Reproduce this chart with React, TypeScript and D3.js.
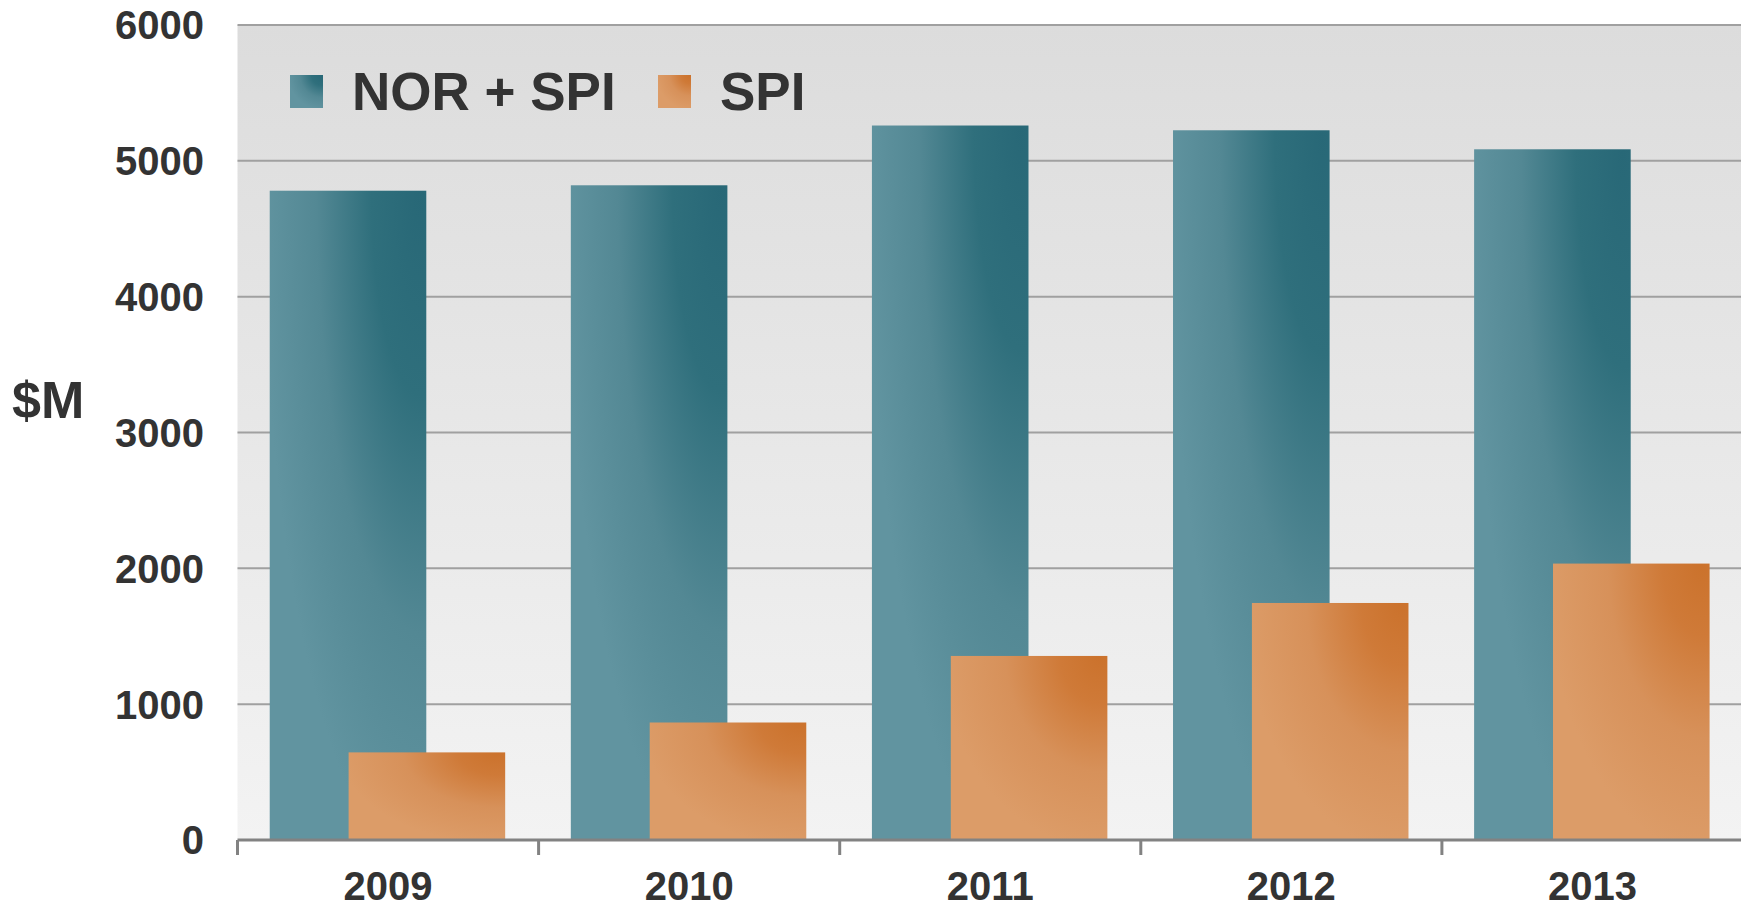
import React from 'react'
import * as d3 from 'd3'

const years = ['2009', '2010', '2011', '2012', '2013']
const norSpi = [4780, 4820, 5260, 5225, 5085]
const spi = [645, 865, 1355, 1745, 2035]
const yTicks = [0, 1000, 2000, 3000, 4000, 5000, 6000]
const seriesNames = ['NOR + SPI', 'SPI']

const W = 1741
const H = 907
const margin = { top: 25, right: -2, bottom: 67, left: 237.5 }
const font = 'Liberation Sans, Arial, Helvetica, sans-serif'

export default function App() {
  const x = d3.scaleBand<string>()
    .domain(years)
    .range([margin.left, W - margin.right])
    .padding(0)

  const y = d3.scaleLinear()
    .domain([0, 6000])
    .range([H - margin.bottom, margin.top])

  const bw = x.bandwidth()
  const barW = bw * 0.52
  const off1 = bw * 0.107
  const off2 = bw * 0.369
  const bottom = y(0)

  return (
    <svg width={W} height={H} style={{ position: 'fixed', left: 0, top: 0, display: 'block', background: '#fff' }}>
      <defs>
        <linearGradient id="plotBg" x1="0" y1="0" x2="0" y2="1">
          <stop offset="0" stopColor="#dcdcdc" />
          <stop offset="1" stopColor="#f3f3f3" />
        </linearGradient>
        <radialGradient id="teal" cx="1" cy="0" r="1.05" fx="0.95" fy="0">
          <stop offset="0" stopColor="#286877" />
          <stop offset="0.3" stopColor="#2f6f7c" />
          <stop offset="0.65" stopColor="#538894" />
          <stop offset="1" stopColor="#6194a0" />
        </radialGradient>
        <radialGradient id="orange" cx="1" cy="0" r="1.05" fx="0.95" fy="0">
          <stop offset="0" stopColor="#cb722c" />
          <stop offset="0.25" stopColor="#cf7a38" />
          <stop offset="0.6" stopColor="#d7915a" />
          <stop offset="1" stopColor="#dc9c68" />
        </radialGradient>
      </defs>

      {/* plot background */}
      <rect x={margin.left} y={y(6000)} width={W - margin.left} height={bottom - y(6000)} fill="url(#plotBg)" />

      {/* grid */}
      {yTicks.filter(t => t > 0).map(t => (
        <line key={t} x1={margin.left} x2={W} y1={y(t)} y2={y(t)} stroke="#a0a0a0" strokeWidth={2} />
      ))}

      {/* bars */}
      {years.map((yr, i) => (
        <rect key={'a' + yr} x={x(yr)! + off1} y={y(norSpi[i])} width={barW} height={bottom - y(norSpi[i])} fill="url(#teal)" />
      ))}
      {years.map((yr, i) => (
        <rect key={'b' + yr} x={x(yr)! + off2} y={y(spi[i])} width={barW} height={bottom - y(spi[i])} fill="url(#orange)" />
      ))}

      {/* x axis */}
      <line x1={margin.left} x2={W} y1={bottom} y2={bottom} stroke="#828282" strokeWidth={3} />
      {years.map(yr => (
        <line key={'t' + yr} x1={x(yr)!} x2={x(yr)!} y1={bottom} y2={bottom + 15} stroke="#828282" strokeWidth={3} />
      ))}
      {years.map(yr => (
        <text key={'l' + yr} x={x(yr)! + bw / 2} y={bottom + 60} textAnchor="middle"
          fontFamily={font} fontWeight="bold" fontSize={40} fill="#333">{yr}</text>
      ))}

      {/* y axis labels */}
      {yTicks.map(t => (
        <text key={'y' + t} x={204} y={y(t)} dy="0.36em" textAnchor="end"
          fontFamily={font} fontWeight="bold" fontSize={40} fill="#333">{t}</text>
      ))}
      <text x={12} y={418} fontFamily={font} fontWeight="bold" fontSize={52} fill="#333">$M</text>

      {/* legend */}
      <rect x={290} y={75} width={33} height={33} fill="url(#teal)" />
      <text x={352} y={110} fontFamily={font} fontWeight="bold" fontSize={53} fill="#333">{seriesNames[0]}</text>
      <rect x={658} y={75} width={33} height={33} fill="url(#orange)" />
      <text x={720} y={110} fontFamily={font} fontWeight="bold" fontSize={53} fill="#333">{seriesNames[1]}</text>
    </svg>
  )
}
